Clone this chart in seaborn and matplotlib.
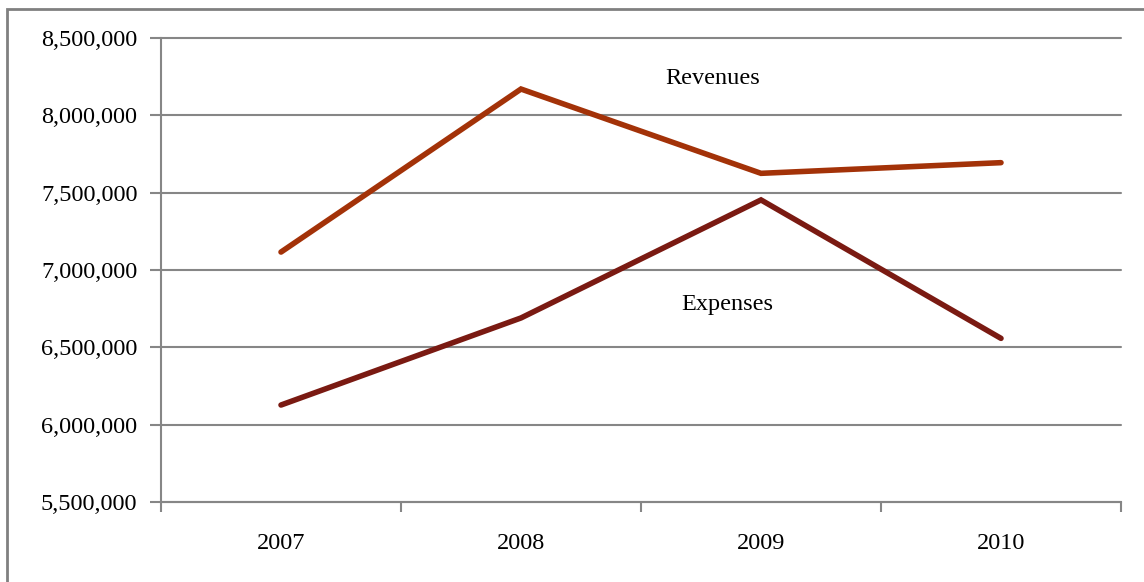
import matplotlib
matplotlib.use("Agg")
import matplotlib.pyplot as plt
import matplotlib.ticker as mticker
from matplotlib.patches import Rectangle
import seaborn as sns
import pandas as pd

years = ["2007", "2008", "2009", "2010"]
revenues = [7116000, 8170000, 7625000, 7694000]
expenses = [6127000, 6690000, 7453000, 6558000]
y_ticks = [5500000, 6000000, 6500000, 7000000, 7500000, 8000000, 8500000]

sns.set_style("white")
plt.rcParams["font.family"] = ["Liberation Serif", "DejaVu Serif"]
plt.rcParams["text.color"] = "black"
plt.rcParams["xtick.color"] = "black"
plt.rcParams["ytick.color"] = "black"

df = pd.DataFrame({
    "pos": list(range(len(years))) * 2,
    "value": revenues + expenses,
    "series": ["Revenues"] * len(years) + ["Expenses"] * len(years),
})

fig = plt.figure(figsize=(11.44, 5.82), dpi=100)
ax = fig.add_axes([161 / 1144, 80 / 582, 960 / 1144, 464 / 582])

palette = {"Revenues": "#A33208", "Expenses": "#7A1A12"}
sns.lineplot(data=df, x="pos", y="value", hue="series", palette=palette,
             linewidth=4.0, legend=False, ax=ax,
             solid_capstyle="round", solid_joinstyle="miter")

grid_color = "#868686"
ax.set_xlim(-0.5, len(years) - 0.5)
ax.set_ylim(y_ticks[0], y_ticks[-1])
ax.set_yticks(y_ticks)
ax.yaxis.set_major_formatter(mticker.FuncFormatter(lambda v, p: f"{int(v):,}"))
ax.grid(axis="y", color=grid_color, linewidth=1.5)
for gl in ax.get_ygridlines():
    gl.set_clip_on(False)
ax.set_axisbelow(True)

# category boundaries carry the tick marks; labels sit at the centres
ax.set_xticks([i - 0.5 for i in range(len(years) + 1)])
ax.set_xticklabels([])
ax.set_xticks(range(len(years)), minor=True)
ax.set_xticklabels(years, minor=True)
ax.tick_params(axis="x", which="major", direction="out", length=7, width=1.5,
               color=grid_color, bottom=True)
ax.tick_params(axis="x", which="minor", length=0, pad=22, labelsize=17.5,
               labelcolor="black")
ax.tick_params(axis="y", direction="out", length=8, width=1.5,
               color=grid_color, left=True, pad=9, labelsize=17.5,
               labelcolor="black")

for side in ["top", "right"]:
    ax.spines[side].set_visible(False)
for side in ["left", "bottom"]:
    ax.spines[side].set_color(grid_color)
    ax.spines[side].set_linewidth(1.5)

ax.set_xlabel("")
ax.set_ylabel("")

ax.text(1.8, 8241000, "Revenues", ha="center", va="center", fontsize=17.5,
        color="black")
ax.text(1.858, 6774000, "Expenses", ha="center", va="center", fontsize=17.5,
        color="black")

# outer chart frame
fig.patches.append(Rectangle((7 / 1144, -0.1), 1.2, 0.1 + (582 - 9) / 582,
                             transform=fig.transFigure, fill=False,
                             edgecolor="#808080", linewidth=2))

fig.savefig("out.png", dpi=100)
